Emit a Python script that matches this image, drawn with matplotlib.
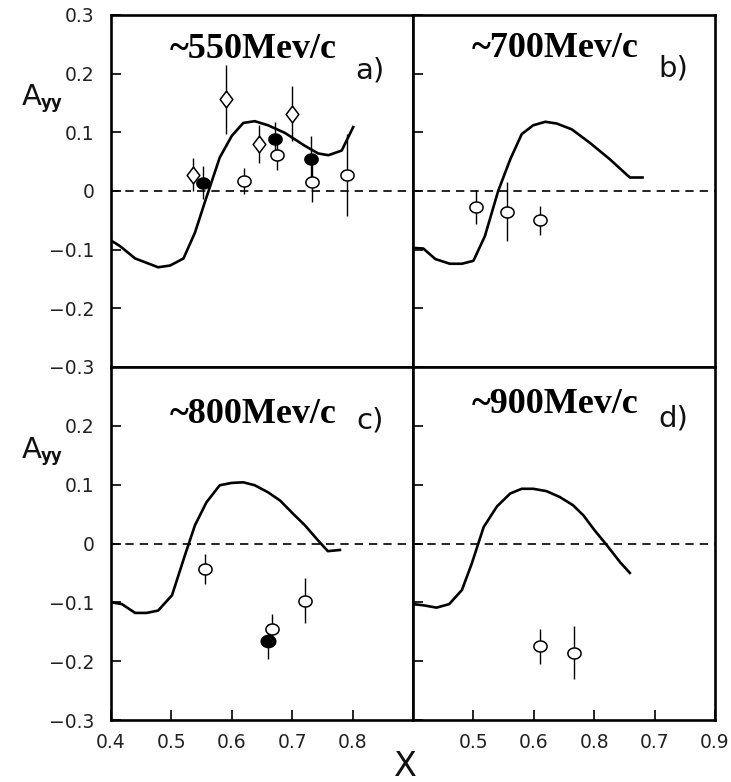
import numpy as np
import matplotlib
matplotlib.use("Agg")
import matplotlib.pyplot as plt

# ---------------- data ----------------
# panel a) ~550 MeV/c
a_curve_x = [0.401, 0.415, 0.440, 0.478, 0.498, 0.520, 0.539, 0.556, 0.580, 0.600,
             0.619, 0.638, 0.660, 0.688, 0.721, 0.743, 0.760, 0.782, 0.801]
a_curve_y = [-0.085, -0.094, -0.115, -0.130, -0.127, -0.115, -0.071, -0.017, 0.057, 0.094,
             0.116, 0.119, 0.112, 0.099, 0.077, 0.064, 0.061, 0.069, 0.109]
a_diam_x = [0.536, 0.590, 0.645, 0.700]
a_diam_y = [0.028, 0.156, 0.080, 0.132]
a_diam_e = [0.028, 0.059, 0.032, 0.047]
a_fill_x = [0.553, 0.672, 0.731]
a_fill_y = [0.014, 0.088, 0.055]
a_fill_e = [0.028, 0.030, 0.038]
a_open_x = [0.620, 0.675, 0.733, 0.791]
a_open_y = [0.017, 0.061, 0.016, 0.027]
a_open_e = [0.022, 0.026, 0.034, 0.070]

# panel b) ~700 MeV/c
b_curve_x = [0.400, 0.417, 0.437, 0.461, 0.481, 0.500, 0.519, 0.541, 0.561, 0.580,
             0.599, 0.619, 0.638, 0.663, 0.693, 0.726, 0.759, 0.780]
b_curve_y = [-0.097, -0.098, -0.116, -0.124, -0.124, -0.119, -0.077, 0.000, 0.054, 0.097,
             0.112, 0.118, 0.115, 0.105, 0.082, 0.054, 0.023, 0.023]
b_open_x = [0.505, 0.556, 0.611]
b_open_y = [-0.028, -0.035, -0.050]
b_open_e = [0.029, 0.050, 0.025]

# panel c) ~800 MeV/c
c_curve_x = [0.401, 0.418, 0.440, 0.459, 0.478, 0.501, 0.523, 0.539, 0.558, 0.580,
             0.600, 0.619, 0.638, 0.660, 0.680, 0.702, 0.721, 0.743, 0.759, 0.779]
c_curve_y = [-0.100, -0.103, -0.118, -0.118, -0.114, -0.088, -0.018, 0.031, 0.070, 0.099,
             0.103, 0.104, 0.099, 0.087, 0.073, 0.050, 0.031, 0.005, -0.013, -0.011]
c_open_x = [0.556, 0.666, 0.721]
c_open_y = [-0.043, -0.146, -0.097]
c_open_e = [0.026, 0.026, 0.038]
c_fill_x = [0.660]
c_fill_y = [-0.166]
c_fill_e = [0.030]

# panel d) ~900 MeV/c
d_curve_x = [0.400, 0.417, 0.439, 0.460, 0.481, 0.497, 0.517, 0.539, 0.561, 0.580,
             0.599, 0.621, 0.643, 0.665, 0.682, 0.701, 0.721, 0.743, 0.759]
d_curve_y = [-0.103, -0.105, -0.109, -0.103, -0.079, -0.035, 0.028, 0.063, 0.085, 0.093,
             0.093, 0.089, 0.079, 0.065, 0.048, 0.022, -0.003, -0.032, -0.050]
d_open_x = [0.611, 0.666]
d_open_y = [-0.175, -0.186]
d_open_e = [0.029, 0.045]

titles = ["~550Mev/c", "~700Mev/c", "~800Mev/c", "~900Mev/c"]
letters = ["a)", "b)", "c)", "d)"]

left_xticks = [0.4, 0.5, 0.6, 0.7, 0.8]
left_xlabels = ["0.4", "0.5", "0.6", "0.7", "0.8"]
right_xticks = [0.5, 0.6, 0.7, 0.8, 0.9]
right_xlabels = ["0.5", "0.6", "0.8", "0.7", "0.9"]
top_yticks = [0.3, 0.2, 0.1, 0.0, -0.1, -0.2, -0.3]
top_ylabels = ["0.3", "0.2", "0.1", "0", "\u22120.1", "\u22120.2", "\u22120.3"]
bot_yticks = [0.2, 0.1, 0.0, -0.1, -0.2, -0.3]
bot_ylabels = ["0.2", "0.1", "0", "\u22120.1", "\u22120.2", "\u22120.3"]

# ---------------- figure ----------------
W, H = 731, 782
fig = plt.figure(figsize=(W / 100, H / 100), dpi=100)

def fx(px):
    return px / W

def fy(py):
    return 1 - py / H

xl, xm, xr = 111, 413, 715
yt, ym, yb = 15, 367, 720
axes = {
    "a": fig.add_axes([fx(xl), fy(ym), fx(xm) - fx(xl), fy(yt) - fy(ym)]),
    "b": fig.add_axes([fx(xm), fy(ym), fx(xr) - fx(xm), fy(yt) - fy(ym)]),
    "c": fig.add_axes([fx(xl), fy(yb), fx(xm) - fx(xl), fy(ym) - fy(yb)]),
    "d": fig.add_axes([fx(xm), fy(yb), fx(xr) - fx(xm), fy(ym) - fy(yb)]),
}

theta = np.linspace(0, 2 * np.pi, 41)
ellipse = list(zip(1.2 * np.cos(theta), np.sin(theta)))
diamond = [(0, 1), (0.76, 0), (0, -1), (-0.76, 0), (0, 1)]

tick_col = "#222222"
for key, ax in axes.items():
    ax.set_xlim(0.4, 0.9)
    ax.set_ylim(-0.3, 0.3)
    for sp in ax.spines.values():
        sp.set_linewidth(1.9)
    ax.axhline(0, color="black", lw=1.2, ls=(0, (5, 3.6)), zorder=1)
    ax.tick_params(direction="in", length=7, width=1.2, color="black",
                   labelsize=13.5, labelcolor=tick_col, pad=12)
    ax.tick_params(axis="x", pad=9)
    ax.set_yticks(top_yticks)
    ax.tick_params(right=False, top=False)
    if key == "a":
        ax.set_yticklabels(top_ylabels)
    elif key == "c":
        ax.set_yticks(bot_yticks)
        ax.set_yticklabels(bot_ylabels)
    else:
        ax.set_yticklabels([])
    if key in ("a", "b"):
        ax.set_xticks([])
    elif key == "c":
        ax.set_xticks(left_xticks)
        ax.set_xticklabels(left_xlabels)
    else:
        ax.set_xticks(right_xticks)
        ax.set_xticklabels(right_xlabels)

def curve(ax, x, y):
    ax.plot(x, y, color="black", lw=1.9, zorder=3, solid_joinstyle="round")

def pts(ax, x, y, e, marker, filled, ms):
    ax.errorbar(x, y, yerr=e, fmt="none", ecolor="black", elinewidth=1.0, zorder=4)
    ax.plot(x, y, ls="none", marker=marker, ms=ms,
            mfc="black" if filled else "white", mec="black", mew=1.1, zorder=5)

curve(axes["a"], a_curve_x, a_curve_y)
pts(axes["a"], a_diam_x, a_diam_y, a_diam_e, diamond, False, 12)
pts(axes["a"], a_open_x, a_open_y, a_open_e, ellipse, False, 9.5)
pts(axes["a"], a_fill_x, a_fill_y, a_fill_e, ellipse, True, 9.5)

curve(axes["b"], b_curve_x, b_curve_y)
pts(axes["b"], b_open_x, b_open_y, b_open_e, ellipse, False, 9.5)

curve(axes["c"], c_curve_x, c_curve_y)
pts(axes["c"], c_open_x, c_open_y, c_open_e, ellipse, False, 9.5)
pts(axes["c"], c_fill_x, c_fill_y, c_fill_e, ellipse, True, 10.5)

curve(axes["d"], d_curve_x, d_curve_y)
pts(axes["d"], d_open_x, d_open_y, d_open_e, ellipse, False, 9.5)

# titles and letters
title_pos = [(253, 58), (555, 57), (253, 423), (555, 413)]
letter_pos = [(370, 70), (673, 68), (370, 420), (673, 418)]
for t, (px, py) in zip(titles, title_pos):
    fig.text(fx(px), fy(py), t, family="Liberation Serif", weight="bold",
             fontsize=26, ha="center", va="baseline")
for t, (px, py) in zip(letters, letter_pos):
    fig.text(fx(px), fy(py), t, family="DejaVu Sans", weight="normal",
             fontsize=21, ha="center", va="center", color="#111111")

# y axis labels "A_yy"
for cy in (97, 450):
    fig.text(fx(22), fy(cy + 8), "A", fontsize=21, ha="left", va="baseline",
             family="DejaVu Sans", color="#111111")
    fig.text(fx(41), fy(cy + 11), "yy", fontsize=12, weight="bold",
             ha="left", va="baseline", family="DejaVu Sans", color="#111111")

fig.text(fx(405), fy(767), "X", fontsize=24, ha="center", va="center",
         family="DejaVu Sans", color="#111111")

fig.savefig("out.png", dpi=100)
